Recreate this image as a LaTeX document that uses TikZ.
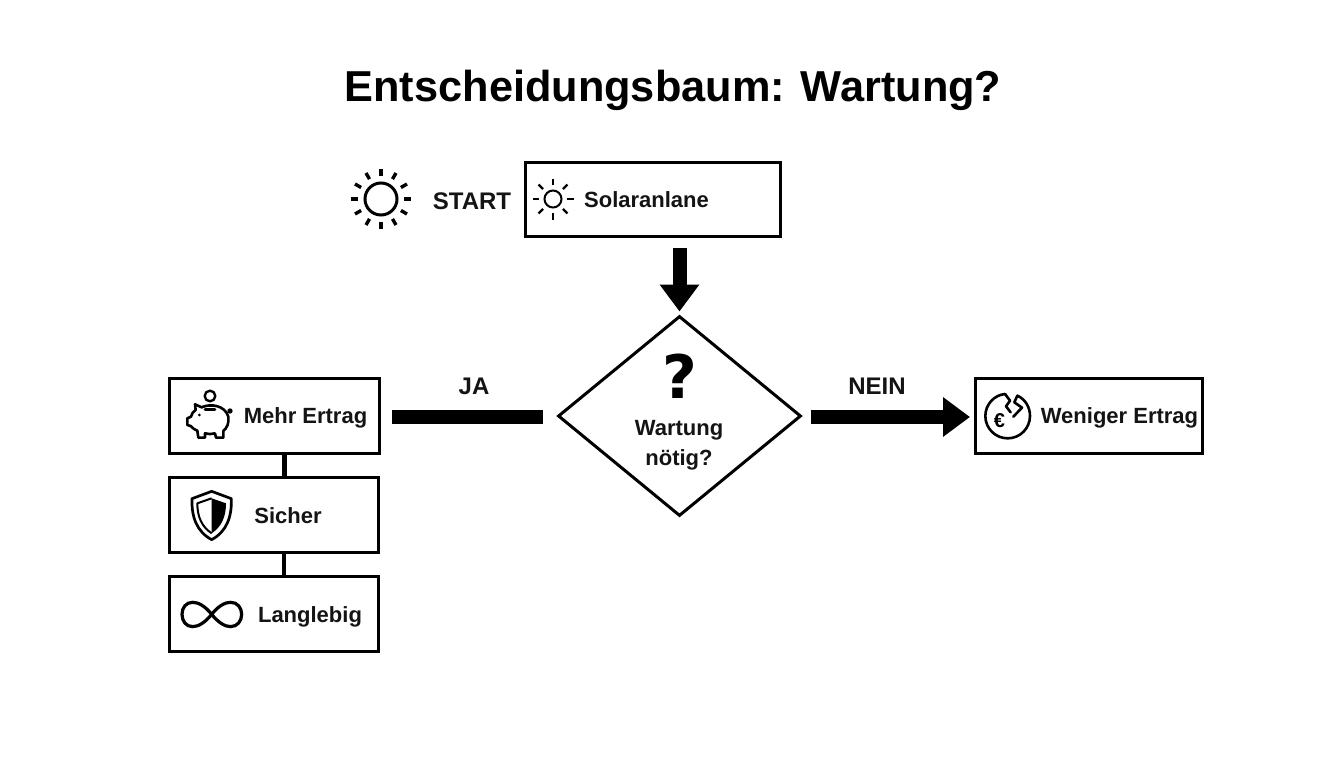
\documentclass[tikz,border=0pt]{standalone}
\usepackage{fontspec}
\setmainfont{Liberation Sans}
\newfontfamily\qfont{DejaVu Sans}
\usetikzlibrary{shapes.geometric,arrows.meta}
\tikzset{
  box/.style={draw=black,line width=3pt,rectangle,inner sep=0pt,anchor=north west},
  lbl/.style={font=\fontsize{22}{26}\selectfont\bfseries,inner sep=0pt,text=black!92,anchor=base},
  big lbl/.style={lbl,font=\fontsize{24}{26}\selectfont\bfseries},
  thin link/.style={draw=black,line width=4.5pt},
  fat link/.style={draw=black,line width=14pt},
  fat arrow/.style={fat link,-{Triangle[length=27pt,width=38pt]}},
  icon/.style={line width=2.6pt,line join=round,line cap=round},
  ray/.style={line width=3.4pt,line cap=butt}
}
\begin{document}
\begin{tikzpicture}[x=1pt,y=-1pt]
\useasboundingbox (0,0) rectangle (1344,768);
\fill[white] (0,0) rectangle (1344,768);
\node[inner sep=0pt,anchor=base,font=\fontsize{43.3}{50}\selectfont\bfseries] (title) at (673,102) {Entscheidungsbaum: Wartung?};
% boxes
\node[box,minimum width=255pt,minimum height=74pt] (solar) at (524,161) {};
\node[box,minimum width=210pt,minimum height=75pt] (mehr) at (168,377) {};
\node[box,minimum width=209pt,minimum height=75pt] (sicher) at (168,476) {};
\node[box,minimum width=209pt,minimum height=75pt] (lang) at (168,575) {};
\node[box,minimum width=227pt,minimum height=75pt] (wenig) at (974,377) {};
\node[draw=black,line width=3pt,diamond,minimum width=243pt,minimum height=200pt,inner sep=0pt] (dec) at (679.5,416) {};
% connectors
\draw[thin link] ([xshift=10pt]mehr.south) -- ([xshift=10pt]mehr.south |- sicher.north);
\draw[thin link] ([xshift=10pt]sicher.south) -- ([xshift=10pt]sicher.south |- lang.north);
\draw[fat link,shorten <=11pt,shorten >=14pt] (mehr.east |- 0,417) -- (dec.west |- 0,417);
\draw[fat arrow,shorten <=10pt,shorten >=3pt] (dec.north |- solar.south) -- (dec.north);
\draw[fat arrow,shorten <=8pt,shorten >=4pt] (dec.east |- 0,417) -- (wenig.west |- 0,417);
% labels
\node[big lbl] (start) at (472,209) {START};
\node[lbl] (sl) at (646.5,207) {Solaranlane};
\node[big lbl] (ja) at (474,394) {JA};
\node[big lbl] (nein) at (877,394) {NEIN};
\node[lbl] (ml) at (305.5,423) {Mehr Ertrag};
\node[lbl] (sl2) at (288,523) {Sicher};
\node[lbl] (ll) at (310,622) {Langlebig};
\node[lbl] (wl) at (1119.5,423) {Weniger Ertrag};
\node[lbl] (dl1) at (679,435) {Wartung};
\node[lbl] (dl2) at (679,465) {nötig?};
\node[inner sep=0pt,anchor=base,font=\qfont\fontsize{60}{62}\selectfont\bfseries] (q) at (680,398) {?};
% big sun
\draw[line width=3pt] (381,199) circle (16);
\foreach \a in {0,30,...,330} \draw[ray] (381,199) ++(\a:23) -- ++(\a:7);
% small sun
\draw[line width=2pt] (553,199) circle (8.5);
\foreach \a in {0,45,...,315} \draw[line width=2.2pt] (553,199) ++(\a:14) -- ++(\a:6.5);
% pig
\begin{scope}[shift={(160,370)},x=0.3333pt,y=-0.3333pt,icon]
\draw[line width=2.4pt] (150,78) circle (16);
\draw (105,103) -- (125,112) .. controls (150,100) and (195,105) .. (205,140) .. controls (208,160) and (200,175) .. (190,183) -- (190,203) -- (168,203) -- (165,190) .. controls (155,193) and (145,193) .. (135,190) -- (135,203) -- (115,203) -- (112,182) .. controls (105,180) and (98,175) .. (92,168) -- (82,165) -- (82,145) -- (93,140) .. controls (95,130) and (100,125) .. (107,120) -- cycle;
\draw (135,118) -- (165,118);
\fill (118,135) circle (4.5);
\fill (210,123) circle (8);
\end{scope}
% shield
\begin{scope}[shift={(160,370)},x=0.3333pt,y=-0.3333pt]
\draw[line width=2.7pt,line join=round] (155,364) -- (214,386) .. controls (216,440) and (200,485) .. (155,509) .. controls (110,485) and (94,440) .. (96,386) -- cycle;
\draw[line width=2pt,line join=round] (155,385) -- (112,400) .. controls (112,440) and (125,470) .. (155,490);
\fill (155,385) -- (198,400) .. controls (198,440) and (185,470) .. (155,490) -- cycle;
\end{scope}
% infinity
\begin{scope}[shift={(160,370)},x=0.3333pt,y=-0.3333pt]
\draw[line width=3.2pt] (155,733) .. controls (175,708) and (195,697) .. (212,697) .. controls (232,697) and (245,713) .. (245,733) .. controls (245,753) and (232,770) .. (212,770) .. controls (195,770) and (175,758) .. (155,733) .. controls (135,708) and (115,697) .. (98,697) .. controls (78,697) and (66,713) .. (66,733) .. controls (66,753) and (78,770) .. (98,770) .. controls (115,770) and (135,758) .. (155,733) -- cycle;
\end{scope}
% broken euro
\begin{scope}[shift={(960,365)},x=0.3333pt,y=-0.3333pt,icon]
\draw (172,92) .. controls (197,103) and (210,128) .. (210,153) .. controls (210,190) and (180,220) .. (143,220) .. controls (106,220) and (76,190) .. (76,153) .. controls (76,118) and (103,90) .. (135,87);
\draw (135,87) -- (150,107) -- (138,124) -- (152,142);
\draw (172,92) -- (163,112) -- (186,128) -- (160,155);
\node[font=\fontsize{20}{22}\selectfont\bfseries,inner sep=0pt] (eu) at (118,166) {€};
\end{scope}
\end{tikzpicture}
\end{document}
